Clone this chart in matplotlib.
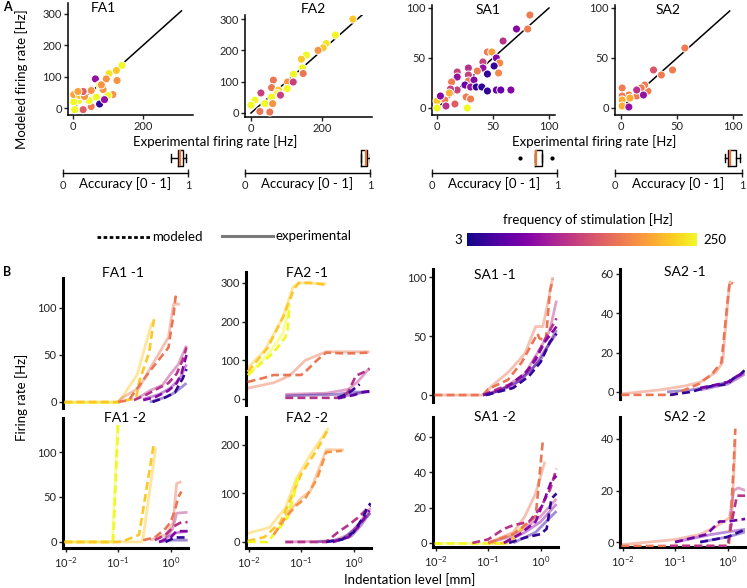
import numpy as np
import matplotlib
matplotlib.use("Agg")
import matplotlib.pyplot as plt
from matplotlib.colors import LogNorm
from matplotlib.cm import ScalarMappable
from matplotlib.lines import Line2D
from matplotlib.ticker import NullLocator, LogLocator

plt.rcParams['font.family'] = ['Lato', 'DejaVu Sans']

# ---------------- data: panel A scatter (experimental, modeled, stimulation freq) -------------
FA1_exp = [140, 103, 124, 126, 114, 100, 64, 95, 76, 52, 67, 52, 76, 46, 16, 2, 2, 19, 5, 29, 33, 29, 86, 90, 81, 14]
FA1_mod = [136, 110, 120, 88, 43, 40, 93, 93, 74, 56, 35, 5, 13, 24, 24, 20, 43, 40, -5, -5, 37, 53, 59, 27, 74, 53]
FA1_frq = [250, 200, 150, 80, 80, 250, 12, 80, 250, 80, 250, 60, 4, 250, 250, 250, 100, 150, 250, 40, 80, 40, 80, 12, 80, 100]

FA2_exp = [287, 238, 212, 203, 189, 156, 142, 145, 147, 120, 103, 102, 63, 58, 77, 74, 58, 39, 11, 0, 28, 25, 53, 61, 119, 83]
FA2_mod = [300, 249, 222, 208, 200, 185, 172, 144, 126, 124, 99, 78, 105, 81, 73, 62, 51, 30, 41, 25, 64, 5, 3, 30, 99, 57]
FA2_frq = [150, 250, 200, 150, 80, 250, 150, 250, 55, 250, 80, 250, 55, 55, 150, 250, 250, 250, 250, 250, 25, 55, 55, 80, 25, 25]

SA1_exp = [83, 81, 71, 59, 45, 49, 53, 56, 51, 41, 41, 45, 55, 36, 28, 28, 28, 18, 18, 13, 33, 25, 18, 12, 11, 30,
           35, 40, 45, 53, 57, 66, 26, 30, 7, 0, 0, 27, 16, 3, 8]
SA1_mod = [93, 79, 79, 67, 56, 56, 50, 45, 42, 46, 40, 34, 35, 37, 40, 33, 27, 36, 31, 26, 28, 23, 18, 19, 15, 21,
           21, 21, 17, 18, 18, 18, 11, 9, 8, 7, 0, 0, 4, 12, 2]
SA1_frq = [60, 60, 10, 20, 60, 90, 10, 70, 4, 25, 12, 4, 70, 60, 20, 25, 60, 25, 12, 60, 10, 7, 25, 25, 110, 12,
           4, 4, 4, 7, 7, 10, 60, 60, 60, 150, 250, 250, 40, 10, 20]

SA2_exp = [57, 46, 36, 29, 24, 21, 18, 14, 7, 1, 1, 1, 1, 8, 20, 7, 14]
SA2_mod = [60, 38, 33, 38, 17, 23, 20, 12, 13, 20, 12, 8, 2, 10, 13, 1, 18]
SA2_frq = [60, 60, 60, 35, 60, 60, 60, 60, 60, 60, 60, 110, 110, 110, 12, 12, 20]

DIAG_END = [310, 315, 100, 97]

# accuracy box statistics: (whislo, q1, med, q3, whishi)
ACC_FA1 = [0.864, 0.92, 0.936, 0.96, 0.984]
ACC_FA2 = [0.926, 0.926, 0.97, 0.975, 1.0]
ACC_SA1 = [0.824, 0.824, 0.83, 0.88, 0.88]
ACC_SA1_OUT = [0.704, 0.96]
ACC_SA2 = [0.87, 0.89, 0.906, 0.95, 0.984]

# ---------------- data: panel B curves (freq, model x, model y, exp x, exp y) -------------
FA1_1 = [
    (250, [0.0095, 0.1], [0, 0], [0.0095, 0.1], [0, 0]),
    (150, [0.0095, 0.1, 0.22, 0.25, 0.39, 0.48], [0, 0, 4, 21, 53, 88],
          [0.0095, 0.1, 0.116, 0.23, 0.44], [0, 0, 4, 29, 85]),
    (55, [0.1, 0.16, 0.39, 0.91, 1.0, 1.13, 1.24, 1.32], [0, 2, 32, 58, 74, 92, 112, 108],
         [0.1, 0.116, 0.25, 0.44, 0.91, 1.13, 1.5], [0, 4, 15, 39, 69, 104, 104]),
    (20, [0.2, 0.35, 0.6, 0.9, 1.3, 1.7, 2.0], [2, 8, 15, 20, 30, 45, 58],
         [0.25, 0.4, 0.7, 1.0, 1.4, 2.0], [5, 12, 18, 30, 40, 60]),
    (10, [0.3, 0.5, 0.9, 1.3, 1.6, 2.0], [2, 5, 12, 20, 30, 50],
         [0.3, 0.6, 1.0, 1.5, 2.0], [3, 8, 15, 25, 40]),
    (4, [0.45, 0.8, 1.2, 1.5, 1.7, 2.0], [0, 5, 10, 20, 25, 35],
        [0.4, 0.8, 1.2, 2.0], [0, 5, 10, 20]),
]
FA2_1 = [
    (150, [0.0096, 0.023, 0.047, 0.072, 0.089, 0.15, 0.29], [70, 132, 217, 282, 300, 300, 295],
          [0.0096, 0.02, 0.045, 0.07, 0.1, 0.3], [80, 125, 210, 290, 300, 298]),
    (250, [0.0096, 0.03, 0.05, 0.055, 0.06], [62, 120, 160, 178, 243],
          [0.0096, 0.025, 0.045, 0.06], [60, 120, 170, 240]),
    (55, [0.0096, 0.02, 0.03, 0.1, 0.13, 0.2, 0.3, 0.6, 1.0, 2.0], [44, 55, 62, 62, 75, 100, 120, 118, 118, 120],
         [0.0096, 0.03, 0.06, 0.12, 0.3, 2.0], [28, 42, 60, 100, 122, 122]),
    (20, [0.05, 0.3, 0.6, 0.8, 1.1, 1.6, 2.0], [3, 3, 3, 20, 60, 70, 78],
         [0.05, 0.3, 0.8, 1.2, 2.0], [12, 15, 25, 45, 80]),
    (4, [0.5, 0.8, 1.1, 1.3], [3, 15, 30, 38],
        [0.05, 0.5, 1.0, 2.0], [8, 12, 18, 18]),
    (6, [0.5, 1.0, 1.5, 2.0], [2, 10, 18, 20],
        [0.5, 1.0, 2.0], [5, 12, 20]),
]
SA1_1 = [
    (55, [0.0095, 0.08, 0.1, 0.24, 0.44, 0.87, 0.95, 1.25, 1.5, 1.7], [0, 0, 5, 13, 28, 52, 48, 46, 88, 98],
         [0.0095, 0.08, 0.12, 0.25, 0.5, 0.8, 1.1, 1.4, 1.7], [0, 0, 8, 20, 35, 58, 58, 80, 100]),
    (20, [0.08, 0.15, 0.3, 0.6, 1.0, 1.5, 2.0], [0, 5, 10, 22, 40, 55, 65],
         [0.08, 0.2, 0.5, 1.0, 1.5, 2.0], [0, 6, 18, 40, 55, 80]),
    (10, [0.08, 0.2, 0.5, 0.8, 1.2, 2.0], [0, 5, 18, 30, 45, 58],
         [0.09, 0.3, 0.7, 1.2, 2.0], [0, 8, 22, 38, 52]),
    (4, [0.09, 0.3, 0.6, 1.0, 1.5, 2.0], [0, 6, 16, 28, 45, 52],
        [0.1, 0.4, 1.0, 2.0], [0, 12, 30, 55]),
]
SA2_1 = [
    (55, [0.0095, 0.09, 0.28, 0.5, 0.76, 1.05, 1.1, 1.25], [-1.5, -1.5, 4, 9, 15, 52, 56, 55],
         [0.0095, 0.05, 0.15, 0.3, 0.6, 0.8, 1.0, 1.1, 1.25], [-1, 1, 3, 5, 10, 15, 45, 56, 55]),
    (4, [0.08, 0.2, 0.5, 1.0, 1.3, 1.6, 2.1], [-1.5, 0, 3, 4, 7, 8, 11],
        [0.07, 0.2, 0.5, 1.0, 2.1], [0, 1, 3, 5, 10]),
    (8, [0.3, 0.7, 1.0, 1.5, 2.1], [2, 4, 5, 8, 10],
        [0.3, 1.0, 2.1], [1, 4, 9]),
]
FA1_2 = [
    (250, [0.0095, 0.08, 0.1], [0, 0, 132], [0.0095, 0.078, 0.098], [0, 0, 130]),
    (150, [0.0095, 0.1, 0.14, 0.25, 0.48], [0, 0, 2, 8, 110], [0.0095, 0.28, 0.3, 0.52], [0, 0, 5, 105]),
    (55, [0.3, 0.5, 0.8, 1.0, 1.2, 1.4, 1.6], [2, 5, 15, 22, 35, 50, 56],
         [0.4, 0.8, 1.1, 1.3, 1.6], [2, 8, 20, 65, 67]),
    (20, [0.5, 0.8, 1.2, 1.6, 2.1], [2, 8, 18, 22, 22], [0.8, 1.1, 1.3, 2.1], [5, 15, 32, 33]),
    (10, [0.6, 1.0, 1.3, 2.1], [0, 5, 12, 12], [0.7, 1.2, 2.1], [2, 10, 12]),
    (4, [0.8, 1.2, 2.1], [0, 5, 5], [0.6, 1.0, 2.1], [0, 2, 2]),
]
FA2_2 = [
    (150, [0.0096, 0.02, 0.04, 0.07, 0.1, 0.2, 0.32], [2, 10, 40, 100, 140, 190, 231],
          [0.0096, 0.025, 0.05, 0.08, 0.15, 0.33], [18, 30, 70, 130, 180, 235]),
    (250, [0.0096, 0.023, 0.055, 0.07, 0.089], [0, 0, 50, 90, 138],
          [0.04, 0.06, 0.08, 0.1], [30, 70, 120, 140]),
    (80, [0.03, 0.05, 0.08, 0.12, 0.2, 0.3, 0.6], [15, 50, 75, 90, 130, 185, 188],
         [0.05, 0.1, 0.15, 0.3, 0.65], [55, 90, 105, 190, 190]),
    (20, [0.05, 0.3, 0.5, 0.8, 1.2, 2.1], [0, 0, 20, 35, 50, 75],
         [0.05, 0.4, 0.8, 1.2, 2.1], [0, 2, 15, 35, 70]),
    (10, [0.4, 0.8, 1.2, 2.0], [0, 10, 30, 65], [0.4, 0.9, 1.4, 2.0], [0, 12, 35, 60]),
    (4, [0.3, 0.6, 1.0, 1.5, 1.8, 2.1], [0, 5, 20, 50, 70, 80],
        [0.2, 0.6, 1.0, 2.1], [0, 5, 25, 60]),
]
SA1_2 = [
    (250, [0.0095, 0.23], [0, 0], [0.0095, 0.23], [0, 0]),
    (150, [0.1, 0.25, 0.35, 0.5], [0, 0, 5, 10], [0.1, 0.3, 0.5], [0, 5, 10]),
    (55, [0.1, 0.3, 0.5, 0.8, 0.9, 1.0, 1.1], [0, 5, 10, 15, 30, 45, 58],
         [0.1, 0.3, 0.5, 0.8, 1.2], [0, 6, 15, 28, 46]),
    (20, [0.05, 0.1, 0.2, 0.3, 0.6, 1.0, 1.5, 2.0], [0, 2, 8, 10, 12, 20, 30, 42],
         [0.1, 0.3, 0.6, 1.0, 2.0], [0, 4, 10, 15, 25]),
    (10, [0.2, 0.4, 0.8, 1.2, 1.6, 2.0], [0, 5, 12, 25, 35, 38],
         [0.2, 0.5, 1.0, 2.0], [0, 6, 12, 22]),
    (4, [0.25, 0.5, 1.0, 1.3, 1.6, 2.0], [0, 3, 5, 8, 25, 28],
        [0.3, 0.8, 2.0], [0, 6, 18]),
]
SA2_2 = [
    (55, [0.0095, 0.3, 1.05, 1.15, 1.3, 1.4], [-1.5, -1.5, -1.5, 10, 30, 44],
         [0.0095, 0.1, 0.3, 0.6, 1.0, 1.2, 1.4], [-1, 1, 3, 6, 9, 10, 40]),
    (20, [0.08, 1.0, 1.2, 1.5, 2.2], [-1.5, -1.5, 8, 18, 18],
         [1.1, 1.3, 1.6, 2.2], [10, 20, 21, 20]),
    (8, [0.1, 0.4, 0.7, 1.0, 2.2], [0, 3, 8, 8, 9], [0.1, 0.5, 2.2], [0, 3, 5]),
    (4, [0.3, 1.0, 2.2], [0, 2, 5], [0.3, 1.0, 2.2], [0, 2, 4]),
]

# ---------------- figure setup -------------
W, H = 747, 588
fig = plt.figure(figsize=(W / 100, H / 100), dpi=100)
cmap = plt.get_cmap('plasma')
norm = LogNorm(vmin=3, vmax=250)


def px_axes(x0, y0, x1, y1):
    return fig.add_axes([x0 / W, 1 - y1 / H, (x1 - x0) / W, (y1 - y0) / H])


def ftext(x, y, s, **kw):
    kw.setdefault('ha', 'center')
    kw.setdefault('va', 'center')
    return fig.text(x / W, 1 - y / H, s, **kw)


# ---------------- Panel A: scatter -------------
scat_specs = [
    ((68, 3, 193, 115), (-14.3, 343), (-22, 335), [0, 200], [0, 100, 200, 300], FA1_exp, FA1_mod, FA1_frq, DIAG_END[0]),
    ((245, 15, 372, 117), (-16.9, 341), (-12.8, 313), [0, 200], [0, 100, 200, 300], FA2_exp, FA2_mod, FA2_frq, DIAG_END[1]),
    ((432, 5, 555, 115), (-4.5, 105.4), (-7, 103), [0, 50, 100], [0, 50, 100], SA1_exp, SA1_mod, SA1_frq, DIAG_END[2]),
    ((615, 5, 742, 115), (-5.4, 108), (-7, 103), [0, 50, 100], [0, 50, 100], SA2_exp, SA2_mod, SA2_frq, DIAG_END[3]),
]
for rect, xl, yl, xt, yt, ex, mo, fr, dend in scat_specs:
    ax = px_axes(*rect)
    ax.plot([0, dend], [0, dend], color='black', lw=1.1, zorder=1)
    ax.scatter(ex, mo, c=fr, cmap=cmap, norm=norm, s=34, edgecolors='white', linewidths=0.7, zorder=3)
    ax.set_xlim(*xl)
    ax.set_ylim(*yl)
    ax.set_xticks(xt)
    ax.set_yticks(yt)
    for s in ['top', 'right']:
        ax.spines[s].set_visible(False)
    for s in ['left', 'bottom']:
        ax.spines[s].set_linewidth(1.1)
    ax.tick_params(labelsize=8, length=3, width=1, pad=1.5, colors='#222222')

# accuracy boxes
box_specs = [
    ((63, 143, 188, 173), ACC_FA1, []),
    ((245, 143, 370, 173), ACC_FA2, []),
    ((432, 143, 557, 173), ACC_SA1, ACC_SA1_OUT),
    ((615, 143, 742, 173), ACC_SA2, []),
]
for rect, st, out in box_specs:
    ax = px_axes(*rect)
    stats = [dict(whislo=st[0], q1=st[1], med=st[2], q3=st[3], whishi=st[4], fliers=out)]
    ax.bxp(stats, positions=[0.5], widths=0.55, orientation='horizontal', showfliers=True,
           boxprops=dict(color='black', lw=1.0),
           medianprops=dict(color='#E8772E', lw=1.6),
           whiskerprops=dict(color='black', lw=1.0),
           capprops=dict(color='black', lw=1.0),
           flierprops=dict(marker='o', markersize=2, markerfacecolor='black', markeredgecolor='black'))
    ax.set_xlim(0, 1)
    ax.set_ylim(0, 1)
    ax.set_xticks([0, 1])
    ax.set_xticklabels(['0', '1'])
    ax.set_yticks([])
    for s in ['top', 'right', 'left']:
        ax.spines[s].set_visible(False)
    ax.spines['bottom'].set_linewidth(1.0)
    ax.tick_params(axis='x', direction='inout', length=6, width=1, labelsize=8, pad=2, colors='#222222')
    ax.text(0.5, -0.36, 'Accuracy [0 - 1]', transform=ax.transAxes, ha='center', va='center', fontsize=9.5)

# panel A titles & labels
for x, y, s in [(103, 8, 'FA1'), (313, 9, 'FA2'), (488, 10, 'SA1'), (668, 10, 'SA2')]:
    ftext(x, y, s, fontsize=10)
ftext(215, 142, 'Experimental firing rate [Hz]', fontsize=9.5)
ftext(594, 142, 'Experimental firing rate [Hz]', fontsize=9.5)
ftext(22, 79, 'Modeled firing rate [Hz]', fontsize=9.5, rotation=90)
ftext(3, 7, 'A', fontsize=9, fontweight='bold', ha='left')
ftext(3, 272, 'B', fontsize=9, fontweight='bold', ha='left')

# legend
fig.add_artist(Line2D([97 / W, 150 / W], [1 - 237 / H] * 2, color='black', lw=2, dashes=(1.3, 0.9)))
ftext(152, 237, 'modeled', fontsize=9.5, ha='left')
fig.add_artist(Line2D([222 / W, 273 / W], [1 - 236 / H] * 2, color='#7a7a7a', lw=2.2))
ftext(275, 236, 'experimental', fontsize=9.5, ha='left')

# colorbar
cax = px_axes(467, 233, 697, 246)
cb = fig.colorbar(ScalarMappable(norm=norm, cmap=cmap), cax=cax, orientation='horizontal')
cb.outline.set_visible(False)
cax.set_xticks([])
cax.minorticks_off()
cax.xaxis.set_minor_locator(NullLocator())
ftext(462, 240, '3', fontsize=9.5, ha='right')
ftext(703, 240, '250', fontsize=9.5, ha='left')
ftext(588, 220, 'frequency of stimulation [Hz]', fontsize=9.5)

# ---------------- Panel B: curves -------------
XLIM = (10 ** -2.05, 10 ** 0.33)
b_specs = [
    ((63, 278, 188, 408), (-6.4, 131.9), [0, 50, 100], FA1_1, False),
    ((246, 272, 371, 405), (-15.5, 328), [0, 100, 200, 300], FA2_1, False),
    ((433, 269, 558, 402), (-5.9, 106.8), [0, 50, 100], SA1_1, False),
    ((620, 269, 745, 399), (-3.6, 62.5), [0, 20, 40, 60], SA2_1, False),
    ((63, 418, 188, 548), (-6.7, 137.8), [0, 50, 100], FA1_2, True),
    ((246, 417, 371, 548), (-12.4, 257.7), [0, 100, 200], FA2_2, True),
    ((433, 417, 558, 547), (-2.3, 71.3), [0, 20, 40, 60], SA1_2, True),
    ((620, 417, 745, 547), (-1.9, 48.5), [0, 20, 40], SA2_2, True),
]
for rect, yl, yt, curves, bottom in b_specs:
    ax = px_axes(*rect)
    ax.set_xscale('log')
    for f, mx, my, exx, exy in curves:
        col = cmap(norm(f))
        ax.plot(exx, exy, color=col, lw=2.0, alpha=0.45, solid_capstyle='butt', zorder=2)
    for f, mx, my, exx, exy in curves:
        col = cmap(norm(f))
        ax.plot(mx, my, color=col, lw=1.9, dashes=(3, 1.6), zorder=3)
    ax.set_xlim(*XLIM)
    ax.set_ylim(*yl)
    ax.set_yticks(yt)
    ax.xaxis.set_minor_locator(NullLocator())
    ax.xaxis.set_major_locator(LogLocator(base=10, numticks=10))
    for s in ['top', 'right']:
        ax.spines[s].set_visible(False)
    ax.spines['left'].set_linewidth(2.2)
    if bottom:
        ax.spines['bottom'].set_linewidth(2.2)
        ax.tick_params(axis='x', labelsize=8, length=3, width=1, pad=2, colors='#222222')
    else:
        ax.spines['bottom'].set_visible(False)
        ax.tick_params(axis='x', bottom=False, labelbottom=False)
    ax.tick_params(axis='y', labelsize=8, length=3, width=1, pad=1.5, colors='#222222')
    ax.set_xticks([0.01, 0.1, 1])

for x, y, s in [(123, 273, 'FA1 -1'), (307, 273, 'FA2 -1'), (495, 275, 'SA1 -1'), (685, 272, 'SA2 -1'),
                (125, 418, 'FA1 -2'), (307, 418, 'FA2 -2'), (495, 417, 'SA1 -2'), (685, 417, 'SA2 -2')]:
    ftext(x, y, s, fontsize=10)
ftext(22, 397, 'Firing rate [Hz]', fontsize=9.5, rotation=90)
ftext(410, 580, 'Indentation level [mm]', fontsize=9.5)

fig.savefig('out.png', dpi=100)
